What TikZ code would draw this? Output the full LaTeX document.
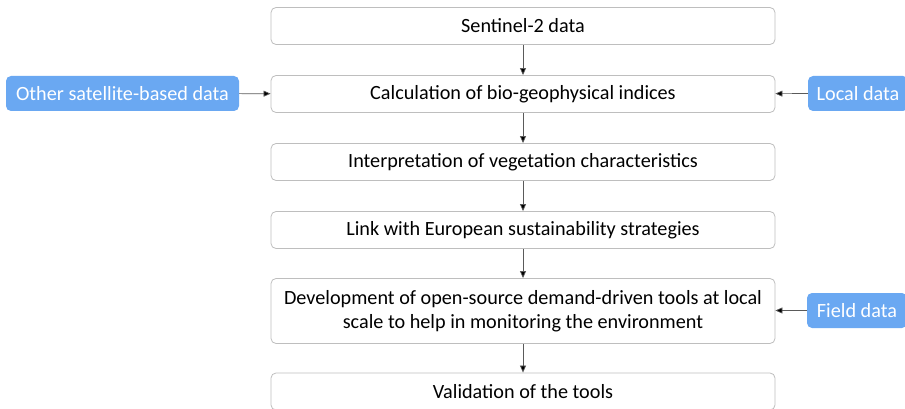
\documentclass[tikz,border=0pt]{standalone}
\usepackage{fontspec}
\setmainfont{Carlito}
\usetikzlibrary{arrows.meta}
\definecolor{bluebox}{RGB}{106,168,242}
\definecolor{edgegray}{RGB}{190,190,190}
\definecolor{arrowgray}{RGB}{90,90,90}
\begin{document}
\begin{tikzpicture}[x=1pt,y=-1pt,
  mainbox/.style={draw=edgegray, line width=0.8pt, rounded corners=5pt, fill=white, align=center, font=\fontsize{20.2}{24.5}\selectfont, inner sep=0pt},
  sidebox/.style={fill=bluebox, rounded corners=5pt, text=white, font=\fontsize{20.2}{24.5}\selectfont, inner sep=0pt},
  conn/.style={draw=arrowgray, line width=0.7pt, -{Triangle[length=7pt,width=6pt,fill=black]}}]
\useasboundingbox (0,0) rectangle (905,409);
\clip (0,0) rectangle (905,409);
\node[mainbox, minimum width=504pt, minimum height=37pt] (s2) at (523,26) {Sentinel-2 data};
\node[mainbox, minimum width=504pt, minimum height=37pt] (calc) at (523,94) {Calculation of bio-geophysical indices};
\node[mainbox, minimum width=504pt, minimum height=37pt] (interp) at (523,162) {Interpretation of vegetation characteristics};
\node[mainbox, minimum width=504pt, minimum height=37pt] (link) at (523,230) {Link with European sustainability strategies};
\node[mainbox, minimum width=504pt, minimum height=65pt] (dev) at (523,311) {Development of open-source demand-driven tools at local\\scale to help in monitoring the environment};
\node[mainbox, minimum width=504pt, minimum height=37pt] (val) at (523,391.5) {Validation of the tools};
\node[sidebox, minimum width=233pt, minimum height=35pt] (other) at (122.5,93.5) {Other satellite-based data};
\node[sidebox, minimum width=100pt, minimum height=35pt] (local) at (858,93.5) {Local data};
\node[sidebox, minimum width=100pt, minimum height=35pt] (field) at (857,310.5) {Field data};
\draw[conn] (s2) -- (calc);
\draw[conn] (calc) -- (interp);
\draw[conn] (interp) -- (link);
\draw[conn] (link) -- (dev);
\draw[conn] (dev) -- (val);
\draw[conn] (other) -- (calc);
\draw[conn] (local) -- (calc);
\draw[conn] (field) -- (field -| dev.east);
\end{tikzpicture}
\end{document}
